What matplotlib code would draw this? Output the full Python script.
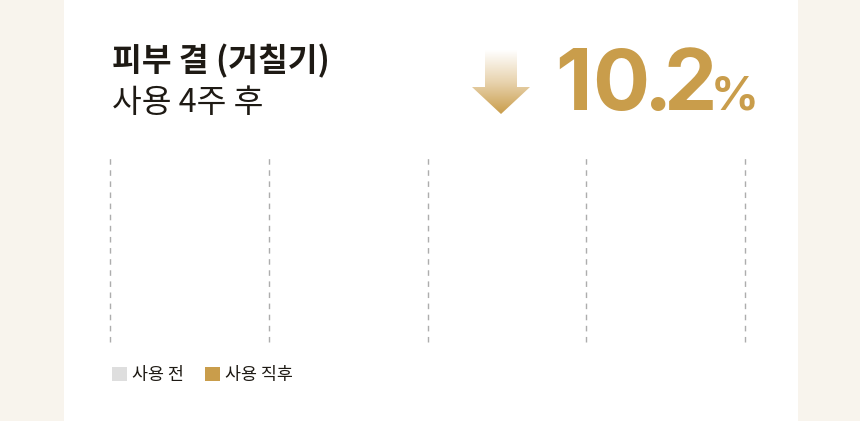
import matplotlib
matplotlib.use('Agg')
import matplotlib.pyplot as plt
from matplotlib.patches import Rectangle, Polygon
from matplotlib.colors import LinearSegmentedColormap
import numpy as np

plt.rcParams['font.family'] = ['Noto Sans CJK KR', 'DejaVu Sans']

# data
title_main = '피부 결 (거칠기)'
title_sub = '사용 4주 후'
change_value = '10.2'
change_unit = '%'
series_labels = ['사용 전', '사용 직후']
series_colors = ['#dedede', '#c99d4b']
categories = []
before_vals = []
after_vals = []
value_ticks = [0, 25, 50, 75, 100]

W, H = 860, 421
fig = plt.figure(figsize=(W / 100, H / 100), dpi=100)
fig.patch.set_facecolor('#f8f4ed')

# white card
fig.patches.append(Rectangle((64 / W, 0), (798 - 64) / W, 1, transform=fig.transFigure,
                             facecolor='white', edgecolor='none', zorder=-5))

# titles
fig.text(112 / W, 1 - 71 / H, title_main, fontsize=23.3, fontweight='bold', color='#1e1a14')
fig.text(112 / W, 1 - 112 / H, title_sub, fontsize=23.3, color='#1e1a14')

# big number, tight tracking -> one glyph at a time
gold = '#c99d4b'
num_centers = [573, 621, 658, 690]
for ch, cx in zip(change_value, num_centers):
    fig.text(cx / W, 1 - 110 / H, ch, fontsize=61, fontweight='bold', color=gold,
             ha='center', family=['Inter', 'DejaVu Sans'])
fig.text(735 / W, 1 - 110 / H, change_unit, fontsize=34, fontweight='bold', color=gold,
         ha='center', family=['Inter', 'DejaVu Sans'])

# gradient arrow
ax_arr = fig.add_axes([470 / W, 1 - 116 / H, 62 / W, 68 / H])
ax_arr.set_xlim(0, 62)
ax_arr.set_ylim(68, 0)
ax_arr.axis('off')
cmap = LinearSegmentedColormap.from_list('g', ['#ffffff', '#e8d3ae', gold])
grad = np.linspace(0, 1, 256).reshape(-1, 1)
im = ax_arr.imshow(grad, extent=[0, 62, 66, 2], aspect='auto', cmap=cmap)
arrow = Polygon([(15, 2), (47, 2), (47, 39), (60, 39), (31, 66), (2, 39), (15, 39)],
                closed=True, facecolor='none', edgecolor='none')
ax_arr.add_patch(arrow)
im.set_clip_path(arrow)

# chart area
ax = fig.add_axes([110 / W, 1 - 342 / H, (745 - 110) / W, (342 - 157) / H])
ax.set_facecolor('none')
y = np.arange(len(categories))
ax.barh(y - 0.2, before_vals, height=0.35, color=series_colors[0], label=series_labels[0])
ax.barh(y + 0.2, after_vals, height=0.35, color=series_colors[1], label=series_labels[1])
ax.set_xlim(value_ticks[0], value_ticks[-1])
ax.set_ylim(0, 1)
ax.set_xticks(value_ticks)
ax.set_yticks([])
ax.tick_params(axis='x', length=0, labelbottom=False)
for s in ax.spines.values():
    s.set_visible(False)
ax.grid(axis='x', color='#adadad', linestyle=(0, (4, 4)), linewidth=1, clip_on=False)
ax.set_axisbelow(True)

# legend
handles = [Rectangle((0, 0), 1, 1, facecolor=c, edgecolor='none') for c in series_colors]
fig.legend(handles, series_labels, loc='upper left', bbox_to_anchor=(96 / W, 1 - 350 / H),
           ncol=2, frameon=False, fontsize=12.5, handlelength=0.87, handleheight=0.87,
           handletextpad=0.3, columnspacing=1.2, labelcolor='#1e1a14')

fig.savefig('out.png', dpi=100, facecolor=fig.get_facecolor())
